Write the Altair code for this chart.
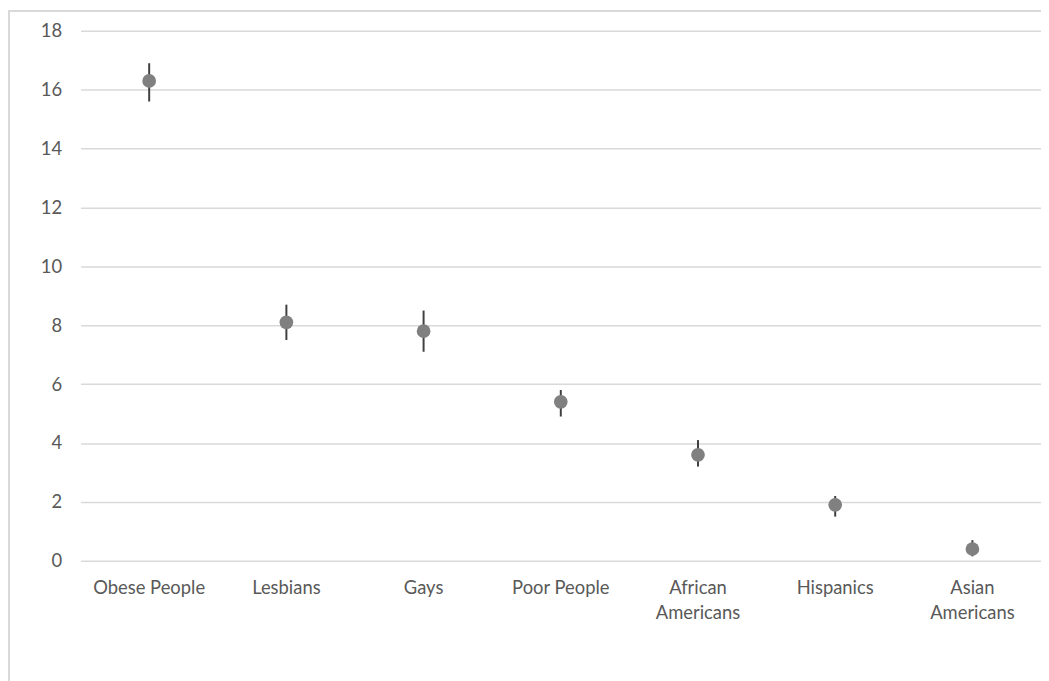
import altair as alt
import pandas as pd

categories = ["Obese People", "Lesbians", "Gays", "Poor People",
              "African Americans", "Hispanics", "Asian Americans"]
means = [16.3, 8.1, 7.8, 5.4, 3.6, 1.9, 0.4]
lows = [15.6, 7.5, 7.1, 4.9, 3.2, 1.5, 0.15]
highs = [16.9, 8.7, 8.5, 5.8, 4.1, 2.2, 0.7]

df = pd.DataFrame({"cat": categories, "mean": means, "lo": lows, "hi": highs})

FONT = "Lato"
FS = 18.5
label_expr = ("datum.label == 'African Americans' ? ['African','Americans'] : "
              "datum.label == 'Asian Americans' ? ['Asian','Americans'] : datum.label")

x = alt.X("cat:N", sort=categories, title=None,
          scale=alt.Scale(paddingInner=0, paddingOuter=0),
          axis=alt.Axis(labelAngle=0, ticks=False, domain=False, grid=False,
                        labelFont=FONT, labelFontSize=FS, labelColor="#595959",
                        labelPadding=18, labelExpr=label_expr, labelLineHeight=25))
y_scale = alt.Scale(domain=[0, 18], nice=False)
y_axis = alt.Axis(values=list(range(0, 19, 2)), ticks=False, domain=False,
                  grid=True, gridColor="#d9d9d9", gridWidth=1.5,
                  labelFont=FONT, labelFontSize=FS, labelColor="#595959",
                  labelPadding=19)

base = alt.Chart(df)
bars = base.mark_rule(color="#404040", strokeWidth=2).encode(
    x=x, y=alt.Y("lo:Q", scale=y_scale, axis=y_axis, title=None), y2="hi:Q")
pts = base.mark_circle(color="#808080", opacity=1, size=190).encode(
    x=x, y=alt.Y("mean:Q", scale=y_scale, title=None))

frame_left = alt.Chart(df).mark_rule(color="#d9d9d9", strokeWidth=1.5, clip=False).encode(
    x=alt.value(-72), y=alt.value(-21), y2=alt.value(700))
frame_top = alt.Chart(df).mark_rule(color="#d9d9d9", strokeWidth=1.5, clip=False).encode(
    x=alt.value(-72), x2=alt.value(1000), y=alt.value(-20))

chart = alt.layer(bars, pts, frame_left, frame_top).properties(
    width=966, height=533,
    autosize=alt.AutoSizeParams(type="none"),
    padding={"left": 73, "top": 21, "right": 0, "bottom": 130},
).configure_view(stroke=None)

chart.save("out.html", embed_options={"renderer": "svg", "actions": False})
